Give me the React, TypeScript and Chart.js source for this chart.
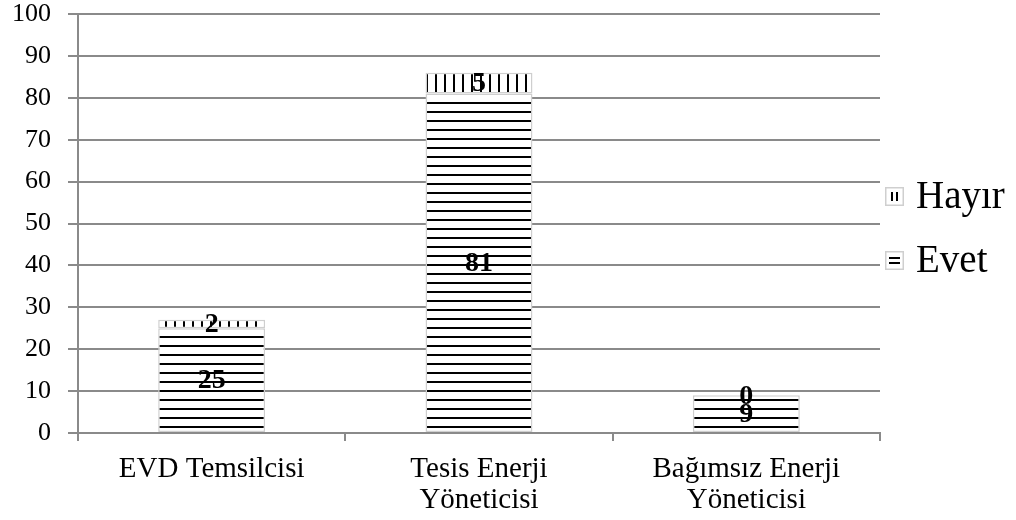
import React, { useEffect, useRef } from "react";
import { Chart, registerables } from "chart.js";

Chart.register(...registerables);

// Categories (multi-line labels) and the two stacked answer series
const categories: string[][] = [
  ["EVD Temsilcisi"],
  ["Tesis Enerji", "Yöneticisi"],
  ["Bağımsız Enerji", "Yöneticisi"],
];
const evetValues = [25, 81, 9];
const hayirValues = [2, 5, 0];
const seriesNames = ["Evet", "Hayır"];
const yMin = 0;
const yMax = 100;
const yStep = 10;

const FONT = "'Liberation Serif', 'Times New Roman', serif";
const GRID = "#8a8a8a";
const BAR_BORDER = "#cfcfcf";

function makeStripeTile(dir: "h" | "v"): HTMLCanvasElement {
  const size = 9;
  const c = document.createElement("canvas");
  c.width = size;
  c.height = size;
  const g = c.getContext("2d")!;
  g.fillStyle = "#ffffff";
  g.fillRect(0, 0, size, size);
  g.fillStyle = "#000000";
  if (dir === "h") g.fillRect(0, 3, size, 2);
  else g.fillRect(3, 0, 2, size);
  return c;
}

// Value labels centred in each stacked segment
const segmentLabels = {
  id: "segmentLabels",
  afterDatasetsDraw(chart: any) {
    const ctx = chart.ctx;
    ctx.save();
    ctx.font = `bold 28px ${FONT}`;
    ctx.fillStyle = "#000";
    ctx.textAlign = "center";
    ctx.textBaseline = "middle";
    chart.data.datasets.forEach((ds: any, di: number) => {
      const meta = chart.getDatasetMeta(di);
      meta.data.forEach((bar: any, i: number) => {
        const cy = (bar.y + bar.base) / 2;
        ctx.fillText(String(ds.data[i]), bar.x, cy + 1);
      });
    });
    ctx.restore();
  },
};

// Legend on the right with small patterned swatches
const sideLegend = {
  id: "sideLegend",
  afterDraw(chart: any) {
    const ctx = chart.ctx;
    const items = [
      { name: seriesNames[1], dir: "v", base: 208 },
      { name: seriesNames[0], dir: "h", base: 272 },
    ];
    ctx.save();
    items.forEach((it) => {
      const s = 19;
      const bx = 885;
      const by = it.base - 21;
      ctx.fillStyle = "#fff";
      ctx.fillRect(bx, by, s, s);
      ctx.strokeStyle = BAR_BORDER;
      ctx.lineWidth = 1.5;
      ctx.strokeRect(bx + 0.75, by + 0.75, s - 1.5, s - 1.5);
      ctx.strokeStyle = "#000";
      ctx.lineWidth = 2;
      ctx.beginPath();
      if (it.dir === "v") {
        ctx.moveTo(bx + 7, by + 5);
        ctx.lineTo(bx + 7, by + s - 5);
        ctx.moveTo(bx + 12, by + 5);
        ctx.lineTo(bx + 12, by + s - 5);
      } else {
        ctx.moveTo(bx + 4, by + 7);
        ctx.lineTo(bx + s - 4, by + 7);
        ctx.moveTo(bx + 4, by + 12);
        ctx.lineTo(bx + s - 4, by + 12);
      }
      ctx.stroke();
      ctx.fillStyle = "#000";
      ctx.font = `39px ${FONT}`;
      ctx.textAlign = "left";
      ctx.textBaseline = "alphabetic";
      ctx.fillText(it.name, 916, it.base);
    });
    ctx.restore();
  },
};

export default function App() {
  const ref = useRef<HTMLCanvasElement | null>(null);

  useEffect(() => {
    const canvas = ref.current!;
    const ctx = canvas.getContext("2d")!;
    const hPattern = ctx.createPattern(makeStripeTile("h"), "repeat");
    const vPattern = ctx.createPattern(makeStripeTile("v"), "repeat");

    const chart = new Chart(canvas, {
      type: "bar",
      data: {
        labels: categories,
        datasets: [
          {
            label: seriesNames[0],
            data: evetValues,
            backgroundColor: hPattern as any,
            borderColor: BAR_BORDER,
            borderWidth: 1.5,
            borderSkipped: false,
            categoryPercentage: 1,
            barPercentage: 0.4,
          },
          {
            label: seriesNames[1],
            data: hayirValues,
            backgroundColor: vPattern as any,
            borderColor: BAR_BORDER,
            borderWidth: 1.5,
            borderSkipped: false,
            categoryPercentage: 1,
            barPercentage: 0.4,
          },
        ],
      },
      options: {
        responsive: false,
        animation: false,
        layout: { padding: { left: 0, top: 0, right: 136, bottom: 0 } },
        plugins: {
          legend: { display: false },
          tooltip: { enabled: false },
        },
        scales: {
          x: {
            stacked: true,
            afterFit: (s: any) => {
              s.height = 87;
            },
            grid: {
              drawOnChartArea: false,
              drawTicks: true,
              tickLength: 8,
              color: GRID,
              lineWidth: 2,
            },
            border: { display: true, color: GRID, width: 2 },
            ticks: {
              color: "#000",
              padding: 12,
              maxRotation: 0,
              autoSkip: false,
              font: { family: FONT, size: 29, lineHeight: 1.1 },
            },
          },
          y: {
            stacked: true,
            min: yMin,
            max: yMax,
            afterFit: (s: any) => {
              s.width = 78;
              s.paddingTop = 14;
            },
            grid: {
              color: GRID,
              lineWidth: 2,
              drawTicks: true,
              tickLength: 10,
            },
            border: { display: true, color: GRID, width: 2 },
            ticks: {
              stepSize: yStep,
              color: "#000",
              padding: 17,
              font: { family: FONT, size: 26 },
            },
          },
        },
      },
      plugins: [segmentLabels, sideLegend],
    });

    return () => chart.destroy();
  }, []);

  return (
    <div style={{ position: "absolute", left: 0, top: 0, width: 1016, height: 520, background: "#fff" }}>
      <canvas ref={ref} width={1016} height={520} />
    </div>
  );
}
